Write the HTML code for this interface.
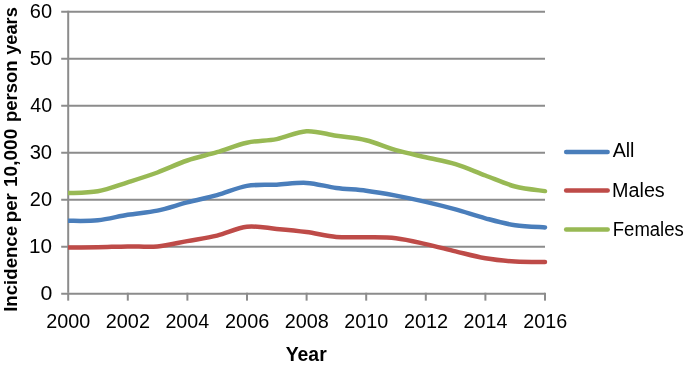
<!DOCTYPE html>
<html><head><meta charset="utf-8"><style>
html,body{margin:0;padding:0;background:#fff;}
svg{display:block;will-change:transform;}
text{font-family:"Liberation Sans",sans-serif;fill:#000;}
</style></head><body>
<svg width="685" height="367" viewBox="0 0 685 367">
<rect x="61.2" y="10.75" width="483.8" height="2" fill="#8c8c8c"/>
<rect x="61.2" y="57.75" width="483.8" height="2" fill="#8c8c8c"/>
<rect x="61.2" y="104.75" width="483.8" height="2" fill="#8c8c8c"/>
<rect x="61.2" y="151.75" width="483.8" height="2" fill="#8c8c8c"/>
<rect x="61.2" y="198.75" width="483.8" height="2" fill="#8c8c8c"/>
<rect x="61.2" y="245.75" width="483.8" height="2" fill="#8c8c8c"/>
<rect x="61.2" y="292.75" width="483.8" height="2" fill="#8c8c8c"/>
<rect x="67.2" y="10.75" width="2" height="282" fill="#8c8c8c"/>
<rect x="67.20" y="292.75" width="2" height="7.9" fill="#8c8c8c"/>
<rect x="126.80" y="292.75" width="2" height="7.9" fill="#8c8c8c"/>
<rect x="186.40" y="292.75" width="2" height="7.9" fill="#8c8c8c"/>
<rect x="246.00" y="292.75" width="2" height="7.9" fill="#8c8c8c"/>
<rect x="305.60" y="292.75" width="2" height="7.9" fill="#8c8c8c"/>
<rect x="365.20" y="292.75" width="2" height="7.9" fill="#8c8c8c"/>
<rect x="424.80" y="292.75" width="2" height="7.9" fill="#8c8c8c"/>
<rect x="484.40" y="292.75" width="2" height="7.9" fill="#8c8c8c"/>
<rect x="544.00" y="292.75" width="2" height="7.9" fill="#8c8c8c"/>
<clipPath id="pc"><rect x="68" y="0" width="600" height="367"/></clipPath>
<path clip-path="url(#pc)" d="M68.00 220.80 C72.97 220.72 87.88 221.30 97.81 220.30 C107.75 219.30 117.69 216.42 127.62 214.80 C137.56 213.18 147.50 212.67 157.44 210.60 C167.38 208.53 177.31 204.97 187.25 202.40 C197.19 199.83 207.12 197.95 217.06 195.20 C227.00 192.45 236.94 187.65 246.88 185.90 C256.81 184.15 266.75 185.20 276.69 184.70 C286.62 184.20 296.56 182.37 306.50 182.90 C316.44 183.43 326.38 186.60 336.31 187.90 C346.25 189.20 356.19 189.42 366.12 190.70 C376.06 191.98 386.00 193.73 395.94 195.60 C405.88 197.47 415.81 199.60 425.75 201.90 C435.69 204.20 445.62 206.67 455.56 209.40 C465.50 212.13 475.44 215.65 485.38 218.30 C495.31 220.95 505.25 223.78 515.19 225.30 C525.12 226.82 540.03 227.05 545.00 227.40" fill="none" stroke="#4A7EBB" stroke-width="4.50" stroke-linecap="round" stroke-linejoin="round"/>
<path clip-path="url(#pc)" d="M68.00 247.40 C72.97 247.37 87.88 247.37 97.81 247.20 C107.75 247.03 117.69 246.52 127.62 246.40 C137.56 246.28 147.50 247.38 157.44 246.50 C167.38 245.62 177.31 242.92 187.25 241.10 C197.19 239.28 207.12 237.98 217.06 235.60 C227.00 233.22 236.94 227.92 246.88 226.80 C256.81 225.68 266.75 228.03 276.69 228.90 C286.62 229.77 296.56 230.67 306.50 232.00 C316.44 233.33 326.38 236.03 336.31 236.90 C346.25 237.77 356.19 236.97 366.12 237.20 C376.06 237.43 386.00 237.15 395.94 238.30 C405.88 239.45 415.81 241.92 425.75 244.10 C435.69 246.28 445.62 249.03 455.56 251.40 C465.50 253.77 475.44 256.62 485.38 258.30 C495.31 259.98 505.25 260.88 515.19 261.50 C525.12 262.12 540.03 261.92 545.00 262.00" fill="none" stroke="#BE4B48" stroke-width="4.50" stroke-linecap="round" stroke-linejoin="round"/>
<path clip-path="url(#pc)" d="M68.00 193.10 C72.97 192.78 87.88 193.00 97.81 191.20 C107.75 189.40 117.69 185.42 127.62 182.30 C137.56 179.18 147.50 176.13 157.44 172.50 C167.38 168.87 177.31 163.88 187.25 160.50 C197.19 157.12 207.12 155.17 217.06 152.20 C227.00 149.23 236.94 144.88 246.88 142.70 C256.81 140.52 266.75 141.02 276.69 139.10 C286.62 137.18 296.56 131.77 306.50 131.20 C316.44 130.63 326.38 134.20 336.31 135.70 C346.25 137.20 356.19 137.78 366.12 140.20 C376.06 142.62 386.00 147.35 395.94 150.20 C405.88 153.05 415.81 154.97 425.75 157.30 C435.69 159.63 445.62 161.17 455.56 164.20 C465.50 167.23 475.44 171.78 485.38 175.50 C495.31 179.22 505.25 183.90 515.19 186.50 C525.12 189.10 540.03 190.33 545.00 191.10" fill="none" stroke="#98B954" stroke-width="4.50" stroke-linecap="round" stroke-linejoin="round"/>
<line x1="566.15" y1="151.90" x2="607.65" y2="151.90" stroke="#4A7EBB" stroke-width="4.50" stroke-linecap="round"/>
<line x1="566.15" y1="190.50" x2="607.65" y2="190.50" stroke="#BE4B48" stroke-width="4.50" stroke-linecap="round"/>
<line x1="566.15" y1="229.40" x2="607.65" y2="229.40" stroke="#98B954" stroke-width="4.50" stroke-linecap="round"/>
<text x="52.06" y="18.08" font-size="20.30" text-anchor="end" textLength="22.26" lengthAdjust="spacingAndGlyphs">60</text>
<text x="52.24" y="65.05" font-size="20.30" text-anchor="end" textLength="22.53" lengthAdjust="spacingAndGlyphs">50</text>
<text x="52.10" y="112.09" font-size="20.30" text-anchor="end" textLength="21.82" lengthAdjust="spacingAndGlyphs">40</text>
<text x="52.11" y="159.07" font-size="20.30" text-anchor="end" textLength="22.48" lengthAdjust="spacingAndGlyphs">30</text>
<text x="52.05" y="206.05" font-size="20.30" text-anchor="end" textLength="22.19" lengthAdjust="spacingAndGlyphs">20</text>
<text x="52.13" y="253.05" font-size="20.30" text-anchor="end" textLength="23.01" lengthAdjust="spacingAndGlyphs">10</text>
<text x="52.26" y="300.09" font-size="20.30" text-anchor="end" textLength="11.84" lengthAdjust="spacingAndGlyphs">0</text>
<text x="68.28" y="327.80" font-size="20.30" text-anchor="middle" textLength="43.92" lengthAdjust="spacingAndGlyphs">2000</text>
<text x="127.87" y="327.80" font-size="20.30" text-anchor="middle" textLength="44.21" lengthAdjust="spacingAndGlyphs">2002</text>
<text x="187.30" y="327.80" font-size="20.30" text-anchor="middle" textLength="43.78" lengthAdjust="spacingAndGlyphs">2004</text>
<text x="247.16" y="327.80" font-size="20.30" text-anchor="middle" textLength="44.19" lengthAdjust="spacingAndGlyphs">2006</text>
<text x="306.85" y="327.80" font-size="20.30" text-anchor="middle" textLength="44.09" lengthAdjust="spacingAndGlyphs">2008</text>
<text x="366.19" y="327.80" font-size="20.30" text-anchor="middle" textLength="43.97" lengthAdjust="spacingAndGlyphs">2010</text>
<text x="426.05" y="327.80" font-size="20.30" text-anchor="middle" textLength="44.26" lengthAdjust="spacingAndGlyphs">2012</text>
<text x="485.48" y="327.80" font-size="20.30" text-anchor="middle" textLength="43.74" lengthAdjust="spacingAndGlyphs">2014</text>
<text x="545.30" y="327.80" font-size="20.30" text-anchor="middle" textLength="43.87" lengthAdjust="spacingAndGlyphs">2016</text>
<text x="306.21" y="360.70" font-size="19.50" font-weight="bold" text-anchor="middle" textLength="41.00" lengthAdjust="spacingAndGlyphs">Year</text>
<text x="612.67" y="157.00" font-size="19.60" textLength="21.83" lengthAdjust="spacingAndGlyphs">All</text>
<text x="612.06" y="197.00" font-size="19.60" textLength="52.72" lengthAdjust="spacingAndGlyphs">Males</text>
<text x="612.82" y="236.00" font-size="19.60" textLength="70.96" lengthAdjust="spacingAndGlyphs">Females</text>
<text transform="translate(17.35,311.80) rotate(-90)" font-size="19.20" font-weight="bold" textLength="85.89" lengthAdjust="spacingAndGlyphs">Incidence</text>
<text transform="translate(17.35,222.21) rotate(-90)" font-size="19.20" font-weight="bold" textLength="29.03" lengthAdjust="spacingAndGlyphs">per</text>
<text transform="translate(17.35,186.98) rotate(-90)" font-size="19.20" font-weight="bold" textLength="58.26" lengthAdjust="spacingAndGlyphs">10,000</text>
<text transform="translate(17.35,121.98) rotate(-90)" font-size="19.20" font-weight="bold" textLength="61.52" lengthAdjust="spacingAndGlyphs">person</text>
<text transform="translate(17.35,54.79) rotate(-90)" font-size="19.20" font-weight="bold" textLength="47.58" lengthAdjust="spacingAndGlyphs">years</text>
</svg>
</body></html>
